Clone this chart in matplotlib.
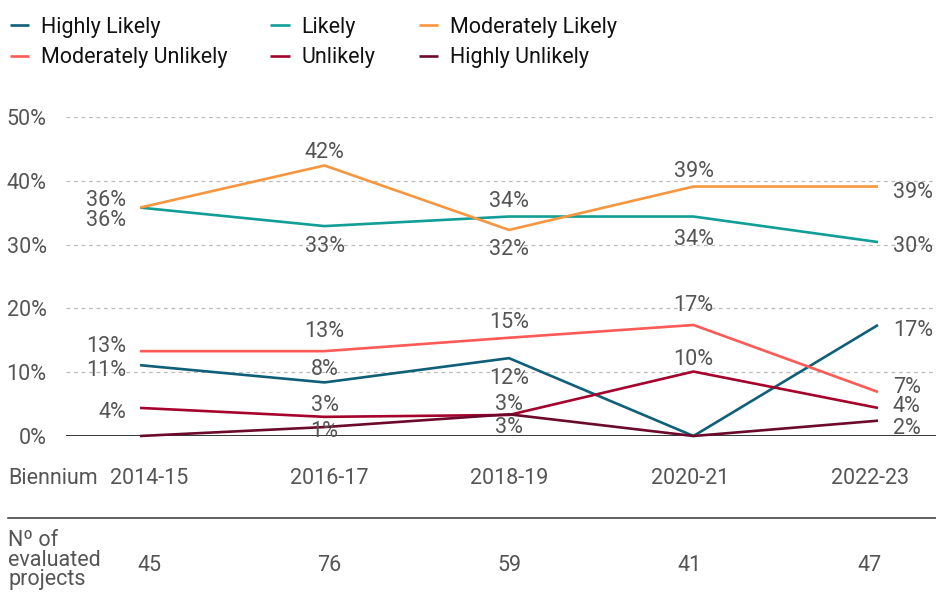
import matplotlib.pyplot as plt
from matplotlib.lines import Line2D

plt.rcParams['font.family'] = ['Roboto', 'DejaVu Sans']

# Share of evaluated projects by sustainability rating, per biennium (%)
bienniums = ['2014-15', '2016-17', '2018-19', '2020-21', '2022-23']
n_projects = [45, 76, 59, 41, 47]

highly_likely = [11.1, 8.4, 12.2, 0.0, 17.4]
likely = [35.8, 32.9, 34.4, 34.4, 30.4]
moderately_likely = [35.8, 42.4, 32.3, 39.1, 39.1]
moderately_unlikely = [13.3, 13.3, 15.4, 17.4, 6.9]
unlikely = [4.4, 3.0, 3.3, 10.1, 4.4]
highly_unlikely = [0.0, 1.4, 3.4, 0.0, 2.4]

series = [
    ('Highly Likely', highly_likely, '#0f5f78'),
    ('Likely', likely, '#119e97'),
    ('Moderately Likely', moderately_likely, '#f7963f'),
    ('Moderately Unlikely', moderately_unlikely, '#ff5a55'),
    ('Unlikely', unlikely, '#a5032c'),
    ('Highly Unlikely', highly_unlikely, '#6b0a2c'),
]

# label offsets in pixels (dx, dy) for each point of each series
label_offsets = {
    'Highly Likely': [(-14, -3), (0, 15), (0, -18), None, (15, -3)],
    'Likely': [(-14, -10), (0, -18), (0, 18), (0, -20), (15, -2)],
    'Moderately Likely': [(-14, 10), (0, 15), (0, -17), (0, 18), (15, -3)],
    'Moderately Unlikely': [(-14, 7), (0, 22), (0, 18), (0, 22), (15, 7)],
    'Unlikely': [(-14, -2), (0, 14), (0, 13), (0, 15), (15, 4)],
    'Highly Unlikely': [None, (0, -2), (0, -11), None, (15, -5)],
}

W, H = 936, 602
FS = 15.5
GREY = '#555555'

fig = plt.figure(figsize=(W / 100, H / 100), dpi=100)

# pixel geometry of the plotting area
x0_px, x4_px = 140, 878
step = (x4_px - x0_px) / 4
left_px, right_px = 66, 936
top_px, bottom_px = 117, 436
ax = fig.add_axes([left_px / W, 1 - bottom_px / H,
                   (right_px - left_px) / W, (bottom_px - top_px) / H])
ax.set_xlim(-(x0_px - left_px) / step, 4 + (right_px - x4_px) / step)
ax.set_ylim(0, 50)

xs = range(len(bienniums))
handles = []
for name, vals, color in series:
    line, = ax.plot(xs, vals, color=color, lw=1.9, clip_on=False,
                    solid_capstyle='butt', zorder=3, label=name)
    handles.append(line)
    for i, v in enumerate(vals):
        off = label_offsets[name][i]
        if off is None:
            continue
        dx, dy = off
        ha = 'right' if i == 0 else ('left' if i == len(vals) - 1 else 'center')
        ax.annotate(f'{round(v)}%', (i, v), xytext=(dx * 0.72, dy * 0.72),
                    textcoords='offset points', ha=ha, va='center_baseline',
                    fontsize=FS, color=GREY, zorder=4)

ax.set_yticks(range(0, 51, 10))
ax.set_yticklabels([f'{t}%' for t in range(0, 51, 10)])
ax.tick_params(axis='y', length=0, pad=14, labelsize=FS, labelcolor=GREY)
ax.set_xticks([])
for t in range(10, 51, 10):
    ax.axhline(t, color='#bbbbbb', lw=0.9, ls=(0, (3, 3)), zorder=1)
ax.axhline(0, color='black', lw=1.1, zorder=2)
for s in ax.spines.values():
    s.set_visible(False)

# legend, two rows of three
order = [0, 3, 1, 4, 2, 5]
fig.legend([handles[k] for k in order], [series[k][0] for k in order],
           loc='upper left', bbox_to_anchor=(1 / W, 1 - 8 / H), ncol=3,
           frameon=False, fontsize=FS, handlelength=0.9, handletextpad=0.55,
           columnspacing=2.0, labelspacing=0.45, borderaxespad=0,
           labelcolor='#111111')

# table below the chart
tab = fig.add_axes([0, 0, 1, 1], zorder=-1)
tab.axis('off')
tcol0, tstep = 149, 180.25
tab.set_xlim(-tcol0 / tstep, (W - tcol0) / tstep)
tab.set_ylim(H, 0)
fig.text(8 / W, 1 - 476 / H, 'Biennium', ha='left', va='center_baseline',
         fontsize=FS, color=GREY)
for i, b in enumerate(bienniums):
    tab.text(i, 476, b, ha='center', va='center_baseline', fontsize=FS, color=GREY)
tab.add_line(Line2D([8 / W, 1], [1 - 518 / H, 1 - 518 / H],
                    transform=fig.transFigure, color='#333333', lw=1.1))
fig.text(8 / W, 1 - 560 / H, 'Nº of\nevaluated\nprojects', ha='left', va='center',
         fontsize=FS, color=GREY, linespacing=0.88)
for i, n in enumerate(n_projects):
    tab.text(i, 563, str(n), ha='center', va='center_baseline', fontsize=FS, color=GREY)

fig.savefig('out.png', dpi=100)
